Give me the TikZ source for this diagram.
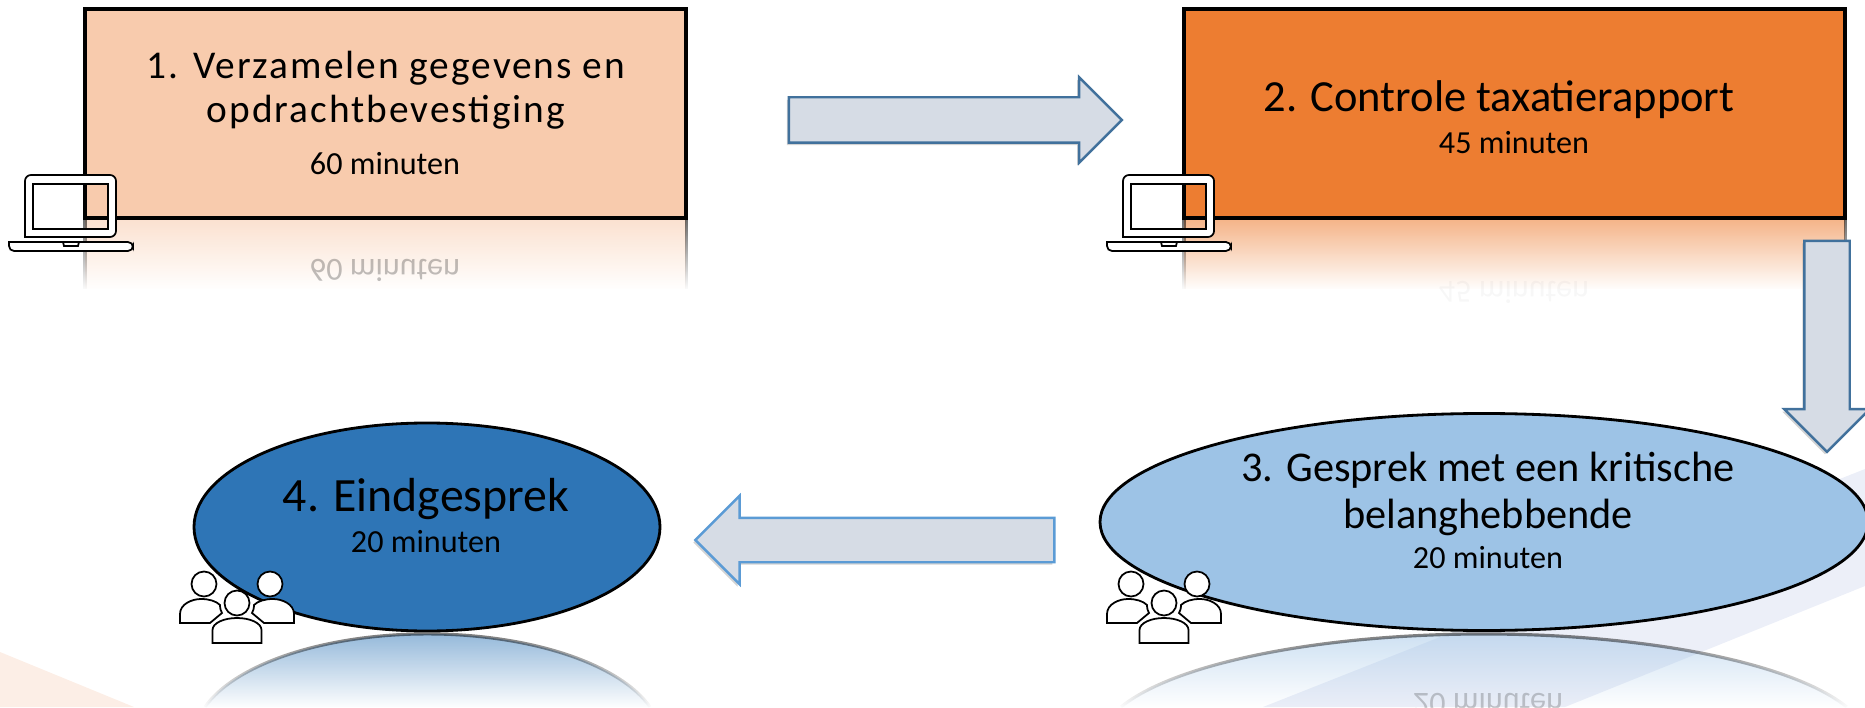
\documentclass[tikz,border=0pt]{standalone}
\usepackage{fontspec}
\setmainfont{Carlito}
\newfontfamily\widefont[LetterSpace=5]{Carlito}
\usetikzlibrary{shapes.geometric,shapes.arrows,shadows,fadings}
\definecolor{peach}{HTML}{F8CBAD}
\definecolor{darkorange}{HTML}{ED7D31}
\definecolor{lightblue}{HTML}{9DC3E6}
\definecolor{midblue}{HTML}{2E75B6}
\definecolor{arrowfill}{HTML}{D6DCE5}
\definecolor{arrowdark}{HTML}{41719C}
\definecolor{arrowlight}{HTML}{5B9BD5}
\definecolor{bgorange}{HTML}{FCEEE6}
\definecolor{bgblue}{HTML}{ECEFF8}
\tikzfading[name=mirrorfade, top color=transparent!40, bottom color=transparent!100]
\tikzset{
	stepbox/.style={draw=black, line width=0.9pt, rectangle, inner sep=0, outer sep=0, minimum height=2.09cm},
	talkoval/.style={draw=black, line width=0.8pt, ellipse, inner sep=0, outer sep=0},
	mirror/.style={draw=black, line width=0.9pt, path fading=mirrorfade},
	mirrortext/.style={font=\fontsize{9.15}{11}\selectfont, yscale=-1, transform shape, inner sep=0},
	title/.style={font=\fontsize{12.65}{15}\selectfont, inner sep=0},
	minutes/.style={font=\fontsize{9.15}{11}\selectfont, inner sep=0},
	blockarrow/.style={single arrow, fill=arrowfill, line width=0.7pt, inner sep=0, outer sep=0, text width=0pt, text depth=0pt,
		single arrow head indent=0, drop shadow={shadow xshift=-0.02cm, shadow yshift=-0.025cm, opacity=0.35}},
	laptop/.pic={
		\draw[fill=white, even odd rule, line width=0.5pt] (-0.46,0.14) [rounded corners=0.06cm] -- (-0.46,0.76) -- (0.45,0.76) -- (0.45,0.14) [sharp corners] -- cycle
			(-0.38,0.22) rectangle (0.37,0.67);
		\draw[fill=white, line width=0.5pt] (-0.62,0.09) [rounded corners=0.05cm] -- (-0.62,0) -- (0.62,0) -- (0.62,0.09) [sharp corners] -- cycle;
		\draw[line width=0.5pt] (-0.08,0.09) -- (-0.07,0.05) -- (0.07,0.05) -- (0.08,0.09);
	},
	people/.pic={
		\foreach \side in {-1,1}{
			\draw[fill=white, line width=0.5pt, xscale=\side] (-0.57,0.20) -- (-0.57,0.29) .. controls (-0.57,0.39) and (-0.45,0.44) .. (-0.36,0.44)
				.. controls (-0.28,0.44) and (-0.21,0.42) .. (-0.17,0.38) .. controls (-0.17,0.34) and (-0.16,0.32) .. (-0.15,0.30) -- (-0.27,0.20) -- cycle;
			\draw[fill=white, line width=0.5pt] (\side*0.33,0.59) circle (0.125);
		}
		\draw[fill=white, line width=0.5pt] (0,0.40) circle (0.125);
		\draw[fill=white, line width=0.5pt] (-0.245,0) -- (-0.245,0.13) .. controls (-0.245,0.20) and (-0.13,0.25) .. (0,0.25)
			.. controls (0.13,0.25) and (0.245,0.20) .. (0.245,0.13) -- (0.245,0) -- cycle;
	},
}

\begin{document}
\begin{tikzpicture}
			\useasboundingbox (0,0) rectangle (18.65,7.07);
			\fill[bgorange]	(0,0.55) -- (1.34,0) -- (0,0) -- cycle;
			\fill[bgblue]	(18.65,2.38) -- (12.63,0) -- (15.65,0) -- (18.65,1.21) -- cycle;
			%
			\draw[mirror, fill=peach]		(0.85,4.18) -- (0.85,4.89) -- (6.86,4.89) -- (6.86,4.18);
			\draw[mirror, fill=darkorange]	(11.84,4.18) -- (11.84,4.89) -- (18.45,4.89) -- (18.45,4.18);
			\draw[mirror, fill=midblue]		(2.05,0) arc[start angle=162.7, end angle=17.3, x radius=2.33, y radius=1.04];
			\draw[mirror, fill=lightblue]	(11.21,0) arc[start angle=160.9, end angle=19.1, x radius=3.84, y radius=1.085];
			\node[mirrortext, opacity=0.25]	(mirror1) at (3.85, 4.37)	{60 minuten};
			\node[mirrortext, opacity=0.03]	(mirror2) at (15.14, 4.15)	{45 minuten};
			\node[mirrortext, opacity=0.2]	(mirror3) at (14.88, 0.03)	{20 minuten};
			%
			\node[stepbox, minimum width=6.01cm, fill=peach]		(box1) at (3.855, 5.935)	{};
			\node[stepbox, minimum width=6.61cm, fill=darkorange]	(box2) at (15.145, 5.935)	{};
			\node[talkoval, minimum width=7.68cm, minimum height=2.17cm, fill=lightblue]	(oval3) at (14.84, 1.85)	{};
			\node[talkoval, minimum width=4.66cm, minimum height=2.08cm, fill=midblue]		(oval4) at (4.27, 1.80)		{};
			%
			\node[title, font=\widefont\fontsize{11.2}{13}\selectfont]	(t1a) at (3.86, 6.39)	{1. Verzamelen gegevens en};
			\node[title, font=\widefont\fontsize{11.2}{13}\selectfont]	(t1b) at (3.86, 5.95)	{opdrachtbevestiging};
			\node[minutes]	(m1) at (3.85, 5.43)	{60 minuten};
			\node[title]	(t2) at (14.99, 6.07)	{2. Controle taxatierapport};
			\node[minutes]	(m2) at (15.14, 5.64)	{45 minuten};
			\node[title, font=\fontsize{12.05}{15}\selectfont]	(t3a) at (14.88, 2.37)	{3. Gesprek met een kritische};
			\node[title, font=\fontsize{12.05}{15}\selectfont]	(t3b) at (14.88, 1.90)	{belanghebbende};
			\node[minutes]	(m3) at (14.88, 1.49)	{20 minuten};
			\node[title, font=\fontsize{13.6}{16}\selectfont]	(t4) at (4.26, 2.08)	{4. Eindgesprek};
			\node[minutes]	(m4) at (4.26, 1.65)	{20 minuten};
			%
			\node[blockarrow, draw=arrowdark, text height=0.43cm, minimum height=3.33cm, single arrow head extend=0.2cm]	(arrow12) at (9.44, 5.87)	{};
			\node[blockarrow, draw=arrowdark, text height=0.43cm, minimum height=2.11cm, single arrow head extend=0.2cm, rotate=-90]	(arrow23) at (18.27, 3.72)	{};
			\node[blockarrow, draw=arrowlight, text height=0.42cm, minimum height=3.59cm, single arrow head extend=0.22cm, rotate=180]	(arrow34) at (8.86, 1.67)	{};
			%
			\pic at (0.71, 4.56)	{laptop};
			\pic at (11.69, 4.56)	{laptop};
			\pic at (2.37, 0.64)	{people};
			\pic at (11.64, 0.64)	{people};
		\end{tikzpicture}
\end{document}
